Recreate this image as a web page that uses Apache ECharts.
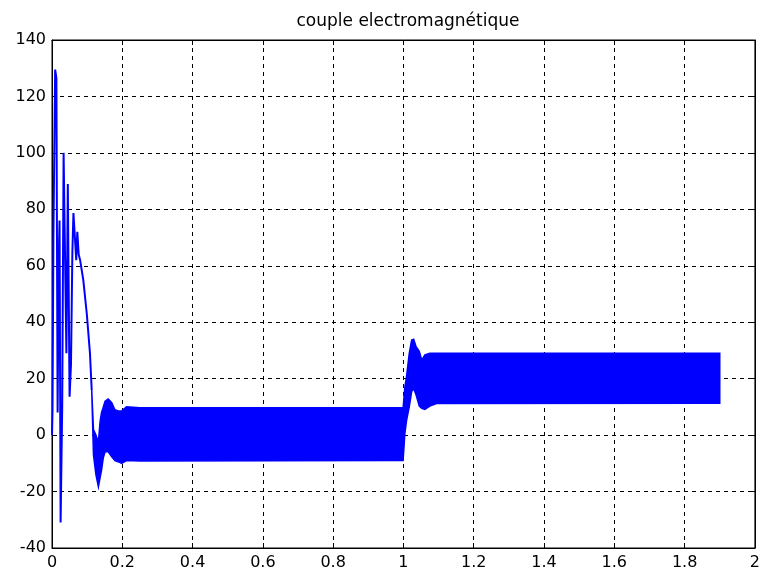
<!DOCTYPE html>
<html>
<head>
<meta charset="utf-8">
<script src="https://cdn.jsdelivr.net/npm/echarts/dist/echarts.min.js"></script>
<style>html,body{margin:0;padding:0;background:#fff}#c{width:763px;height:581px}</style>
</head>
<body>
<div id="c"></div>
<script>
// ---- data ----
const chartTitle = 'couple electromagnétique';
const xMin = 0, xMax = 2, xStep = 0.2;
const yMin = -40, yMax = 140, yStep = 20;

// start-up transient (time in s, torque)
const transientT = [0, 0.0015, 0.004, 0.009, 0.0125, 0.016, 0.019, 0.0215, 0.0245, 0.029, 0.033, 0.037, 0.041, 0.045, 0.050, 0.054, 0.058, 0.061, 0.066, 0.069, 0.072, 0.076, 0.080, 0.089, 0.099, 0.108, 0.113];
const transientV = [0, 9, 70, 129.5, 126.5, 8, 62, 76, -31, 10, 100, 100, 29, 89, 13.6, 25, 65, 78.7, 78, 62, 72, 64, 62, 55, 43, 29, 16];

// high-frequency ripple band: upper / lower envelope
const bandT     = [0.113, 0.118, 0.125, 0.132, 0.137, 0.141, 0.146, 0.151, 0.160, 0.170, 0.179, 0.190, 0.198, 0.212, 0.25, 0.999, 1.004, 1.009, 1.0165, 1.0233, 1.029, 1.036, 1.045, 1.052, 1.061, 1.075, 1.094, 1.9];
const bandUpper = [16, 2, 0, -2.5, 5, 8, 10, 12, 12.8, 11.5, 9, 8.5, 8.5, 10, 9.7, 9.7, 17, 21, 29, 33.7, 34, 31.3, 29.7, 26.6, 28.4, 29, 29, 29];
const bandLower = [16, -7, -14, -18.3, -15, -12.4, -8, -5.9, -5.9, -7.7, -9, -9.5, -10, -9, -9.2, -9, 0.6, 5.3, 10, 15.4, 16.5, 14.2, 10.3, 9.5, 9.1, 10.3, 11.2, 11.3];

// ---- chart ----
const FONT = 'DejaVu Sans';
const BLUE = '#0000ff';
const chart = echarts.init(document.getElementById('c'), null, {renderer: 'canvas'});

const gridDash = {color: '#000', width: 1, type: [4, 4]};
const labelStyle = {color: '#000', fontFamily: FONT, fontSize: 16};

const bandData = bandT.map((t, i) => [t, bandLower[i], bandUpper[i]]);

chart.setOption({
  animation: false,
  backgroundColor: '#fff',
  title: {
    text: chartTitle, left: 403, top: 8, textAlign: 'center',
    textStyle: {fontFamily: FONT, fontSize: 17, fontWeight: 'normal', color: '#000'}
  },
  grid: {left: 52, right: 8, top: 40, bottom: 33, show: true, borderColor: '#000', borderWidth: 1, backgroundColor: '#fff'},
  xAxis: [{
    type: 'value', min: xMin, max: xMax, interval: xStep, position: 'bottom',
    axisLine: {show: true, onZero: false, lineStyle: {color: '#000', width: 1}},
    axisTick: {show: true, inside: true, length: 5, lineStyle: {color: '#000'}},
    axisLabel: Object.assign({margin: 7, showMaxLabel: true, showMinLabel: true}, labelStyle),
    splitLine: {show: true, lineStyle: gridDash}
  }, {
    type: 'value', min: xMin, max: xMax, interval: xStep, position: 'top',
    axisLine: {show: true, onZero: false, lineStyle: {color: '#000', width: 1}},
    axisTick: {show: true, inside: true, length: 5, lineStyle: {color: '#000'}},
    axisLabel: {show: false}, splitLine: {show: false}
  }],
  yAxis: [{
    type: 'value', min: yMin, max: yMax, interval: yStep, position: 'left',
    axisLine: {show: true, onZero: false, lineStyle: {color: '#000', width: 1}},
    axisTick: {show: true, inside: true, length: 5, lineStyle: {color: '#000'}},
    axisLabel: Object.assign({margin: 6}, labelStyle),
    splitLine: {show: true, lineStyle: gridDash}
  }, {
    type: 'value', min: yMin, max: yMax, interval: yStep, position: 'right',
    axisLine: {show: true, onZero: false, lineStyle: {color: '#000', width: 1}},
    axisTick: {show: true, inside: true, length: 5, lineStyle: {color: '#000'}},
    axisLabel: {show: false}, splitLine: {show: false}
  }],
  series: [{
    type: 'custom',
    xAxisIndex: 0, yAxisIndex: 0,
    data: bandData,
    encode: {x: 0, y: [1, 2]},
    renderItem: function (params, api) {
      if (params.dataIndex !== 0) return null;
      const pts = [];
      for (let i = 0; i < bandT.length; i++) pts.push(api.coord([bandT[i], bandUpper[i]]));
      for (let i = bandT.length - 1; i >= 0; i--) pts.push(api.coord([bandT[i], bandLower[i]]));
      return {
        type: 'polygon',
        shape: {points: pts},
        style: {fill: BLUE, stroke: BLUE, lineWidth: 1.5}
      };
    },
    z: 3
  }, {
    type: 'line',
    xAxisIndex: 0, yAxisIndex: 0,
    data: transientT.map((t, i) => [t, transientV[i]]),
    showSymbol: false, symbol: 'none',
    lineStyle: {color: BLUE, width: 2},
    z: 4
  }]
});
</script>
</body>
</html>
